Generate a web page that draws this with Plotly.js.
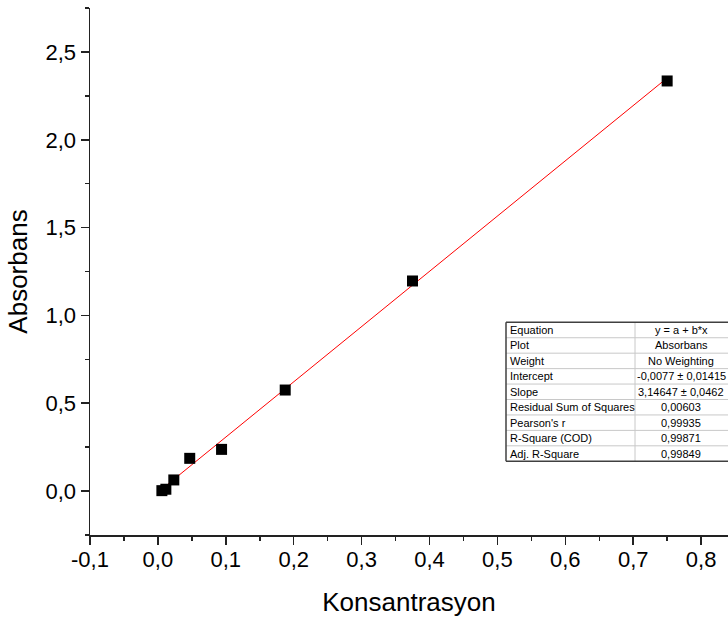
<!DOCTYPE html>
<html>
<head>
<meta charset="utf-8">
<script src="https://cdn.plot.ly/plotly-3.0.1.min.js"></script>
<style>html,body{margin:0;padding:0;background:#fff;}#chart{width:728px;height:619px;}</style>
</head>
<body>
<div id="chart"></div>
<script>
// Data
var konsantrasyon = [0.75, 0.375, 0.1875, 0.09375, 0.046875, 0.0234375, 0.01171875, 0.005859];
var absorbans     = [2.335, 1.196, 0.575, 0.237, 0.186, 0.063, 0.010, 0.002];

// Linear fit parameters (from the fit table)
var intercept = -0.0077;
var slope = 3.14647;

// Tick labels
var xTickVals = [-0.1, 0.0, 0.1, 0.2, 0.3, 0.4, 0.5, 0.6, 0.7, 0.8];
var xTickText = ['-0,1', '0,0', '0,1', '0,2', '0,3', '0,4', '0,5', '0,6', '0,7', '0,8'];
var yTickVals = [0.0, 0.5, 1.0, 1.5, 2.0, 2.5];
var yTickText = ['0,0', '0,5', '1,0', '1,5', '2,0', '2,5'];

// Fit table
var tableLabels = ['Equation', 'Plot', 'Weight', 'Intercept', 'Slope',
  'Residual Sum of Squares', "Pearson's r", 'R-Square (COD)', 'Adj. R-Square'];
var tableValues = ['y = a + b*x', 'Absorbans', 'No Weighting', '-0,0077 \u00b1 0,01415',
  '3,14647 \u00b1 0,0462', '0,00603', '0,99935', '0,99871', '0,99849'];

var FONT = 'Arial, "Liberation Sans", sans-serif';

// plot-area pixel geometry
var W = 728, H = 619, L = 90, T = 8, R = 0, B = 84;
var pw = W - L - R, ph = H - T - B;
function px2x(p) { return (p - L) / pw; }
function py2y(p) { return (H - B - p) / ph; }

var fitX = [Math.min.apply(null, konsantrasyon), Math.max.apply(null, konsantrasyon)];
var fitY = fitX.map(function (x) { return intercept + slope * x; });

var traces = [
  {
    x: fitX, y: fitY, mode: 'lines', type: 'scatter',
    line: {color: '#ff0000', width: 1}, hoverinfo: 'skip', showlegend: false
  },
  {
    x: konsantrasyon, y: absorbans, mode: 'markers', type: 'scatter',
    marker: {symbol: 'square', size: 11, color: '#000000', line: {width: 0}},
    showlegend: false
  }
];

// table geometry (pixels)
var tLeft = 506, tDiv = 635, tRight = 732, tTop = 322.3, rowH = 15.44;
var shapes = [];
var annotations = [];
var n = tableLabels.length;
shapes.push({type: 'rect', xref: 'paper', yref: 'paper', x0: px2x(tLeft), x1: px2x(tRight),
  y0: py2y(tTop + n * rowH), y1: py2y(tTop), fillcolor: '#ffffff', line: {width: 0}, layer: 'above'});
for (var i = 1; i < n; i++) {
  shapes.push({type: 'line', xref: 'paper', yref: 'paper', x0: px2x(tLeft), x1: px2x(tRight),
    y0: py2y(tTop + i * rowH), y1: py2y(tTop + i * rowH), line: {color: '#c8c8c8', width: 1}, layer: 'above'});
}
shapes.push({type: 'line', xref: 'paper', yref: 'paper', x0: px2x(tDiv), x1: px2x(tDiv),
  y0: py2y(tTop), y1: py2y(tTop + n * rowH), line: {color: '#c8c8c8', width: 1}, layer: 'above'});
// outer borders
shapes.push({type: 'line', xref: 'paper', yref: 'paper', x0: px2x(tLeft), x1: px2x(tRight),
  y0: py2y(tTop), y1: py2y(tTop), line: {color: '#404040', width: 1.5}, layer: 'above'});
shapes.push({type: 'line', xref: 'paper', yref: 'paper', x0: px2x(tLeft), x1: px2x(tRight),
  y0: py2y(tTop + n * rowH), y1: py2y(tTop + n * rowH), line: {color: '#404040', width: 1.5}, layer: 'above'});
shapes.push({type: 'line', xref: 'paper', yref: 'paper', x0: px2x(tLeft), x1: px2x(tLeft),
  y0: py2y(tTop), y1: py2y(tTop + n * rowH), line: {color: '#404040', width: 1.5}, layer: 'above'});

for (var j = 0; j < n; j++) {
  var yc = py2y(tTop + (j + 0.5) * rowH);
  annotations.push({xref: 'paper', yref: 'paper', x: px2x(tLeft + 2), y: yc, xanchor: 'left', yanchor: 'middle',
    text: tableLabels[j], showarrow: false, font: {family: FONT, size: 11, color: '#000'}});
  annotations.push({xref: 'paper', yref: 'paper', x: px2x(681), y: yc, xanchor: 'center', yanchor: 'middle',
    text: tableValues[j], showarrow: false, font: {family: FONT, size: 11, color: '#000'}});
}

var layout = {
  width: W, height: H,
  margin: {l: L, r: R, t: T, b: B, pad: 0},
  paper_bgcolor: '#ffffff', plot_bgcolor: '#ffffff',
  font: {family: FONT, color: '#000'},
  showlegend: false,
  xaxis: {
    range: [-0.1, -0.1 + pw / 679],
    tickmode: 'array', tickvals: xTickVals, ticktext: xTickText,
    ticks: 'outside', ticklen: 8, tickwidth: 1.5, tickcolor: '#222',
    minor: {tickmode: 'linear', tick0: 0, dtick: 0.05, ticks: 'outside', ticklen: 4, tickwidth: 1.5, tickcolor: '#222'},
    showline: true, linecolor: '#222', linewidth: 1.5,
    showgrid: false, zeroline: false,
    ticklabelstandoff: -4,
    tickfont: {family: FONT, size: 22, color: '#000'},
    title: {text: 'Konsantrasyon', font: {family: FONT, size: 26, color: '#000'}, standoff: 22}
  },
  yaxis: {
    range: [-(H - B - 491) / 175.6, (491 - T) / 175.6],
    tickmode: 'array', tickvals: yTickVals, ticktext: yTickText,
    ticks: 'outside', ticklen: 8, tickwidth: 1.5, tickcolor: '#222',
    minor: {tickmode: 'linear', tick0: 0, dtick: 0.25, ticks: 'outside', ticklen: 4, tickwidth: 1.5, tickcolor: '#222'},
    showline: true, linecolor: '#222', linewidth: 1.5,
    showgrid: false, zeroline: false,
    tickfont: {family: FONT, size: 22, color: '#000'},
    title: {text: 'Absorbans', font: {family: FONT, size: 26, color: '#000'}, standoff: 10}
  },
  shapes: shapes,
  annotations: annotations
};

Plotly.newPlot('chart', traces, layout, {displayModeBar: false, staticPlot: true});
</script>
</body>
</html>
